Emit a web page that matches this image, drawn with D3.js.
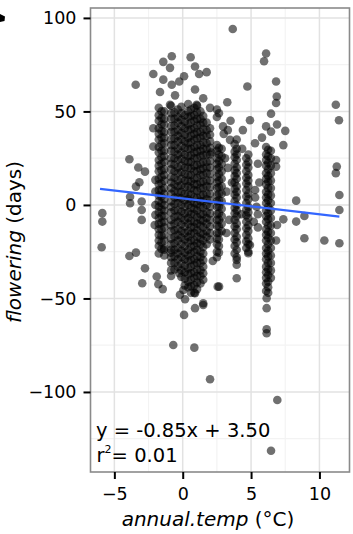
<!DOCTYPE html>
<html>
<head>
<meta charset="utf-8">
<script src="https://cdn.jsdelivr.net/npm/d3@7"></script>
<style>
  body { margin: 0; background: #fff; }
  svg { display: block; }
</style>
</head>
<body>
<svg id="chart" width="353" height="534"></svg>
<script>
// tick values
const xTicks = [-5, 0, 5, 10];
const xMinor = [-2.5, 2.5, 7.5];
const yTicks = [-100, -50, 0, 50, 100];
const yMinor = [-125, -75, -25, 25, 75];

// dense columns of sites (one x per column, y = flowering shift)
const stripeX = [
  -1.75, -1.55, -1.35, -0.85, -0.6, -0.35, -0.1, 0.15, 0.4, 0.6, 0.85, 1.05, 1.3, 1.5, 1.75, 2.0,
  2.5, 2.65, 2.85, 3.8, 3.95, 4.65, 4.8, 6.1, 6.25, 6.45
];
const stripeY = [
  [52, 48, 45, 41, 38, 35, 31, 28, 24, 21, 18, 14, 11, 8, 5, 2, -1, -4, -7, -10, -13, -16, -19, -22, -26],
  [50, 46.5, 43, 39.5, 36, 32.5, 29, 25.5, 22, 18.5, 15, 11.5, 8, 4.5, 1, -2.5, -6, -9.5, -13, -16.5, -20, -23.5],
  [50, 46, 43, 39, 36, 33, 29, 26, 23, 19, 16, 13, 9, 6, 3, 0, -3, -6, -9, -12, -16, -19, -23, -27],
  [53, 49, 46, 42, 39, 35, 32, 29, 25, 22, 19, 15, 12, 9, 6, 2, -1, -4, -8, -11, -14, -18, -21, -24, -28, -31, -35, -38],
  [49.5, 46, 42.5, 39, 35.5, 32, 28.5, 25, 21.5, 18, 14.5, 11, 7.5, 4, 0.5, -3, -6.5, -10, -13.5, -17, -20.5, -24, -27.5, -31, -34.5],
  [51, 47, 44, 40, 37, 34, 30, 27, 24, 20, 17, 13, 10, 7, 4, 1, -3, -6, -9, -13, -16, -19, -23, -26, -29, -33],
  [52.5, 49, 45.5, 42, 38.5, 35, 31.5, 28, 24.5, 21, 17.5, 14, 10.5, 7, 3.5, 0, -3.5, -7, -10.5, -14, -17.5, -21, -24.5, -28, -31.5, -35, -38.5],
  [48, 44.5, 41, 37.5, 34, 30.5, 27, 23.5, 20, 16.5, 13, 9.5, 6, 2.5, -1, -4.5, -8, -11.5, -15, -18.5, -22, -25.5, -29, -32.5, -36, -39.5, -43],
  [54, 50, 47, 43, 40, 36, 33, 30, 26, 23, 20, 16, 13, 10, 6, 3, 0, -4, -7, -10, -14, -17, -20, -24, -27, -30, -34, -37, -41, -44],
  [51, 47.5, 44, 40.5, 37, 33.5, 30, 26.5, 23, 19.5, 16, 12.5, 9, 5.5, 2, -1.5, -5, -8.5, -12, -15.5, -19, -22.5, -26, -29.5, -33, -36.5, -40, -43.5, -47],
  [52, 48, 45, 41, 38, 35, 31, 28, 25, 21, 18, 14, 11, 8, 4, 1, -2, -5, -9, -12, -15, -19, -22, -25, -29, -32, -36, -39, -43, -47],
  [53, 49.5, 46, 42.5, 39, 35.5, 32, 28.5, 25, 21.5, 18, 14.5, 11, 7.5, 4, 0.5, -3, -6.5, -10, -13.5, -17, -20.5, -24, -27.5, -31, -34.5, -38, -41.5, -45],
  [50, 46, 43, 39, 36, 32, 29, 26, 22, 19, 16, 12, 9, 5, 2, -1, -5, -8, -11, -15, -18, -21, -25, -28, -31, -35, -38, -42],
  [47.5, 44, 40.5, 37, 33.5, 30, 26.5, 23, 19.5, 16, 12.5, 9, 5.5, 2, -1.5, -5, -8.5, -12, -15.5, -19, -22.5, -26, -29.5, -33, -36.5, -40],
  [44, 40, 37, 33, 30, 27, 23, 20, 17, 13, 10, 6, 3, 0, -4, -7, -10, -14, -17, -21],
  [41, 37.5, 34, 30.5, 27, 23.5, 20, 16.5, 13, 9.5, 6, 2.5, -1, -4.5, -8, -11.5, -15, -18.5],
  [51, 47, 32, 29, 25, 22, 19, 15, 12, 9, 5, 2, -1, -5, -8, -11, -15, -18, -21, -25, -28],
  [49, 30.5, 27, 23.5, 20, 16.5, 13, 9.5, 6, 2.5, -1, -4.5, -8, -11.5, -15, -18.5, -22, -25.5],
  [30, 26, 22, 18, 14, 10, 6, 2, -2, -6, -10, -14],
  [32.5, 28.5, 25.5, 22, 18.5, 15.5, 12, 8.5, 5.5, 2, -1.5, -4.5, -8, -11.5, -15, -18.5, -22, -26],
  [35, 30, 27, 24, 20, 17, 14, 10, 7, 4, 0, -3, -6, -10, -13, -17, -20, -24, -28, -32],
  [25, 21.5, 18, 14.5, 11.5, 8, 4.5, 1, -2.5, -5.5, -9, -12.5, -16, -19.5, -23],
  [27, 23, 20, 16, 13, 10, 6, 3, -1, -4, -7, -11, -14, -18, -21, -25],
  [31, 27, 24, 21, 17, 14, 11, 7, 4, 1, -3, -6, -9, -13, -16, -19, -23, -26, -29, -33, -36, -39, -42, -46],
  [29.5, 26, 22.5, 19, 15.5, 12.5, 9, 5.5, 2.5, -1, -4.5, -7.5, -11, -14.5, -17.5, -21, -24.5, -27.5, -31, -34.5, -37.5, -41, -44, -47],
  [29, 25, 21, 17, 13, 9, 5, 1, -3, -7, -11, -15, -19, -23, -27, -31, -35, -39]
];

// scattered sites
const looseX = [
  -3.44, -2.15, -1.66, -1.42, -0.8, -0.93, -1.42, -0.8, -0.25, 0.1, 0.58, 0.9, 1.2, 1.75, 0.9, 1.5, -0.56, -0.93, 1.02, 2.0,
  3.66, 6.1, 5.95, 6.83, 4.73, 6.88, 6.83, 3.26, 6.46, 4.92, 11.2, 11.43, 6.1, 6.9, 6.46, 7.5, 7.36, 5.29, 3.46,
  11.27, 11.2, 11.46, 11.46, 11.46, 10.36, 8.9, 8.3, 8.3, 8.9, 7.36, 6.9, 6.83, 6.83, 6.83,
  5.3, 5.3, 5.4, 3.3, 3.2, 4.92, 3.95, 2.66, 4.8, 5.5, 3.4, 2.1, 2.2, 3.5,
  3.0, 3.3, 4.35, 5.5, 5.6, 3.2, 4.3, 5.5, 2.95, 3.6, 4.4, 5.8, 3.1, 5.2,
  -3.9, -3.25, -2.76, -2.15, -2.15, -3.17, -3.42, -3.85, -3.85, -3.0, -3.0, -3.0, -5.88, -5.88, -5.93,
  -2.0, -2.0, -2.0, -2.0, -2.05, -3.9, -3.42, -2.76, -2.96, -1.9, -1.78, -1.46, -1.37, -0.88,
  -0.25, -0.2, 0.05, 0.17, 0.1, 0.9, 1.5, 0.9, 1.5, -0.69, 0.85, 2.0, 6.14, 6.14, 6.14, 6.14, 6.92, 6.46, 2.56, 3.95
];
const looseY = [
  64.3, 70, 60.4, 76.5, 79.5, 73.3, 67, 64.3, 66, 68.8, 79, 74, 70, 71, 61.7, 57, 58.6, 53.6, 53.6, 51.9,
  94.1, 81, 76.8, 66, 63.3, 58, 54.5, 54.9, 48.8, 45.3, 53.6, 45.3, 42, 43, 39.2, 39.6, 32, 33, 34.8,
  20.5, 17, 5.3, -2.7, -20.5, -19, -17.8, 2.3, -8.9, -5.9, -7.7, -10.7, -19, 24, 20.5,
  8, 4, -1, 19.8, 7.1, -21.4, -39.2, -43.7, -25.8, -12, -8, 28, -30, 45,
  38, 40, 30, 22, 12, -15, -5, -5, 42, 12, 40, 36, 25, -9,
  24.4, 20, 17.8, 31.2, 41, 12.1, 9.8, 4.4, 0.9, 1.8, -2.7, -8, -4.4, -8.9, -22.6,
  13.4, 7.1, 0, -5.3, -10.7, -27.3, -25.5, -33.9, -41.9, -38.3, -42.4, -45, -24, -25.5,
  -36.5, -48, -45.5, -50.4, -58.8, -55.2, -52.6, -47.2, -53.5, -74.9, -76.3, -93.2, -49.9, -55.2, -66.5, -68.6, -104.3, -131.4, -43.7, -29.4
];

// linear fit
const slope = -0.85;
const intercept = 3.50;
const fitRange = [-6.05, 11.46];

const W = 353, H = 534;
const panel = { left: 90.5, right: 349.5, top: 8, bottom: 472 };

const x = d3.scaleLinear().domain([-6.745, 12.2]).range([panel.left, panel.right]);
const y = d3.scaleLinear().domain([-142.8, 105.3]).range([panel.bottom, panel.top]);

const svg = d3.select("#chart")
  .style("font-family", "'DejaVu Sans', sans-serif");

svg.append("rect")
  .attr("width", W).attr("height", H)
  .attr("fill", "#fff");

// grid
const grid = svg.append("g");
grid.selectAll(".xminor").data(xMinor).join("line")
  .attr("x1", d => x(d)).attr("x2", d => x(d))
  .attr("y1", panel.top).attr("y2", panel.bottom)
  .attr("stroke", "#f3f3f3").attr("stroke-width", 1.2);
grid.selectAll(".yminor").data(yMinor).join("line")
  .attr("class", "yminor")
  .attr("x1", panel.left).attr("x2", panel.right)
  .attr("y1", d => y(d)).attr("y2", d => y(d))
  .attr("stroke", "#f3f3f3").attr("stroke-width", 1.2);
grid.selectAll(".xmajor").data(xTicks).join("line")
  .attr("class", "xmajor")
  .attr("x1", d => x(d)).attr("x2", d => x(d))
  .attr("y1", panel.top).attr("y2", panel.bottom)
  .attr("stroke", "#e2e2e2").attr("stroke-width", 1.5);
grid.selectAll(".ymajor").data(yTicks).join("line")
  .attr("class", "ymajor")
  .attr("x1", panel.left).attr("x2", panel.right)
  .attr("y1", d => y(d)).attr("y2", d => y(d))
  .attr("stroke", "#e2e2e2").attr("stroke-width", 1.5);

// points
const points = [];
stripeX.forEach((cx, i) => stripeY[i].forEach(v => points.push([cx, v])));
looseX.forEach((cx, i) => points.push([cx, looseY[i]]));

svg.append("g").selectAll("circle")
  .data(points)
  .join("circle")
  .attr("cx", d => x(d[0]))
  .attr("cy", d => y(d[1]))
  .attr("r", 4.3)
  .attr("fill", "#000")
  .attr("fill-opacity", 0.56);

// regression line
svg.append("line")
  .attr("x1", x(fitRange[0])).attr("y1", y(slope * fitRange[0] + intercept))
  .attr("x2", x(fitRange[1])).attr("y2", y(slope * fitRange[1] + intercept))
  .attr("stroke", "#3366ff").attr("stroke-width", 2.3);

// panel border
svg.append("rect")
  .attr("x", panel.left).attr("y", panel.top)
  .attr("width", panel.right - panel.left).attr("height", panel.bottom - panel.top)
  .attr("fill", "none").attr("stroke", "#8a8a8a").attr("stroke-width", 1.6);

// axes
const fmt = d => d < 0 ? "\u2212" + Math.abs(d) : String(d);
const xAxis = svg.append("g")
  .attr("transform", `translate(0,${panel.bottom})`)
  .call(d3.axisBottom(x).tickValues(xTicks).tickSize(7).tickPadding(8.5).tickFormat(fmt));
const yAxis = svg.append("g")
  .attr("transform", `translate(${panel.left},0)`)
  .call(d3.axisLeft(y).tickValues(yTicks).tickSize(7).tickPadding(7).tickFormat(fmt));

[xAxis, yAxis].forEach(a => {
  a.select(".domain").remove();
  a.selectAll(".tick line").attr("stroke", "#000").attr("stroke-width", 2);
  a.selectAll(".tick text")
    .attr("fill", "#000")
    .style("font-family", "'DejaVu Sans', sans-serif")
    .style("font-size", "17.5px");
});

// equation labels
svg.append("text")
  .attr("x", x(-6.35)).attr("y", 437)
  .style("font-size", "19.5px")
  .attr("fill", "#000")
  .text("y = -0.85x + 3.50");
const r2 = svg.append("text")
  .attr("x", x(-6.3)).attr("y", 462)
  .style("font-size", "19.5px")
  .attr("fill", "#000");
r2.append("tspan").text("r");
r2.append("tspan").attr("dy", -9).style("font-size", "11px").text("2");
r2.append("tspan").attr("dy", 9).text("= 0.01");

// axis titles
const xt = svg.append("text")
  .attr("x", (panel.left + panel.right) / 2 - 12).attr("y", 526)
  .attr("text-anchor", "middle")
  .style("font-size", "20px");
xt.append("tspan").style("font-style", "italic").text("annual.temp");
xt.append("tspan").text(" (\u00B0C)");

const yt = svg.append("text")
  .attr("transform", `translate(21,${(panel.top + panel.bottom) / 2 + 2}) rotate(-90)`)
  .attr("text-anchor", "middle")
  .style("font-size", "20px");
yt.append("tspan").style("font-style", "italic").text("flowering");
yt.append("tspan").text(" (days)");

// clipped panel tag fragment at the top-left edge
svg.append("path")
  .attr("d", "M0,14 L5,16.5 L4.5,21 L0,22 Z")
  .attr("fill", "#000");
</script>
</body>
</html>
